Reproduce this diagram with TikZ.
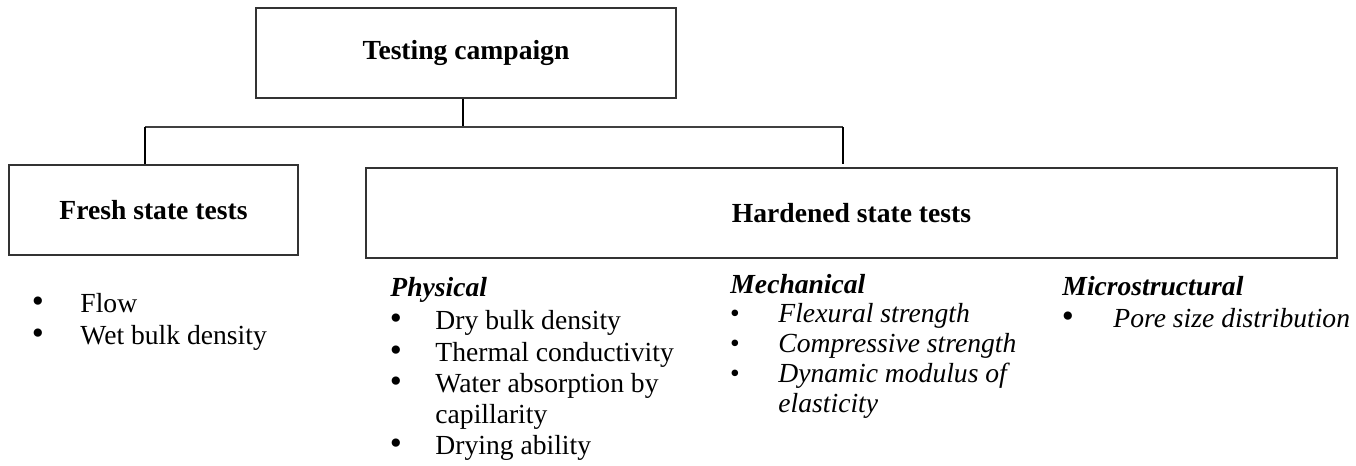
\documentclass[tikz,border=0pt]{standalone}
\usepackage{fontspec}
\setmainfont{Liberation Serif}
\usepackage{tikz}

\begin{document}
\begin{tikzpicture}[x=0.4348pt, y=-0.4348pt,
    box/.style={draw=black!80, line width=0.8pt, rectangle, minimum height=39.1pt, font=\fontsize{12}{14}\selectfont\bfseries},
    head/.style={anchor=base west, inner sep=0pt, font=\fontsize{12}{14}\selectfont\bfseries\itshape},
    item/.style={anchor=base west, inner sep=0pt, font=\fontsize{12}{14}\selectfont},
    itemit/.style={item, font=\fontsize{12}{14}\selectfont\itshape},
    dot/.style={anchor=base, inner sep=0pt, font=\fontsize{15}{15}\selectfont},
    smalldot/.style={anchor=base, inner sep=0pt, font=\fontsize{12}{14}\selectfont},
    link/.style={line width=0.8pt}]
    \useasboundingbox (0,0) rectangle (1356,465);

    % Boxes
    \node[box, minimum width=182.6pt] (camp) at (466,53) {Testing campaign};
    \node[box, minimum width=125.7pt] (fresh) at (153.5,210) {Fresh state tests};
    \node[box, minimum width=422.2pt] (hard) at (851.5,213) {Hardened state tests};

    % Connectors
    \coordinate (jn) at (463,127);
    \coordinate (jl) at (145,127);
    \coordinate (jr) at (843,127);
    \draw[link] (jn |- camp.south) -- (jn);
    \draw[link, draw=black!75] (jl) -- (jr);
    \draw[link] (jl) -- (jl |- fresh.north);
    \draw[link] (jr) -- ([yshift=1.5pt]jr |- hard.north);

    % Fresh state list
    \node[dot] (fb1) at (38,312) {•};
    \node[item] (fresh1) at (80,312) {Flow};
    \node[dot] (fb2) at (38,344) {•};
    \node[item] (fresh2) at (80,344) {Wet bulk density};

    % Physical
    \node[head] (phys) at (390,296) {Physical};
    \node[dot] (pb1) at (396,329) {•};
    \node[item] (phys1) at (435,329) {Dry bulk density};
    \node[dot] (pb2) at (396,361) {•};
    \node[item] (phys2) at (435,361) {Thermal conductivity};
    \node[dot] (pb3) at (396,392) {•};
    \node[item] (phys3) at (435,392) {Water absorption by};
    \node[item] (phys3b) at (435,423) {capillarity};
    \node[dot] (pb4) at (396,454) {•};
    \node[item] (phys4) at (435,454) {Drying ability};

    % Mechanical
    \node[head] (mech) at (730,293) {Mechanical};
    \node[smalldot] (mb1) at (735,322) {•};
    \node[itemit] (mech1) at (778,322) {Flexural strength};
    \node[smalldot] (mb2) at (735,352) {•};
    \node[itemit] (mech2) at (778,352) {Compressive strength};
    \node[smalldot] (mb3) at (735,382) {•};
    \node[itemit] (mech3) at (778,382) {Dynamic modulus of};
    \node[itemit] (mech3b) at (778,412) {elasticity};

    % Microstructural
    \node[head] (micro) at (1062,295) {Microstructural};
    \node[dot] (ub1) at (1068,327) {•};
    \node[itemit] (micro1) at (1113,327) {Pore size distribution};

\end{tikzpicture}
\end{document}
